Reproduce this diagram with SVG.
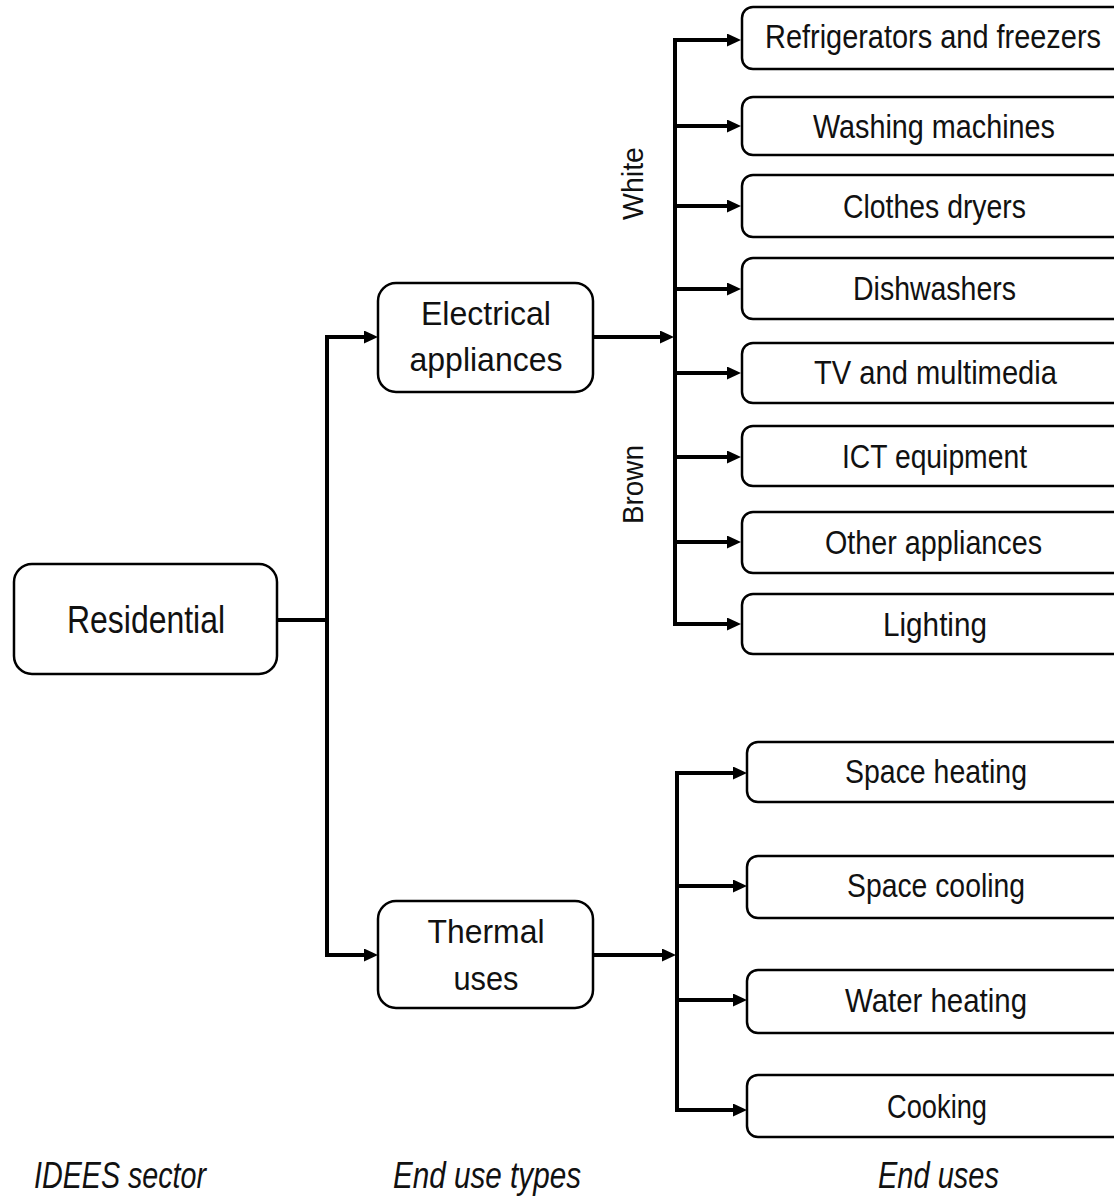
<svg xmlns="http://www.w3.org/2000/svg" width="1114" height="1197" viewBox="0 0 1114 1197">
<defs>
<marker id="ah" viewBox="0 0 14 13" refX="0" refY="6.5" markerWidth="14" markerHeight="13" markerUnits="userSpaceOnUse" orient="auto">
<path d="M0,0 L14,6.5 L0,13 z" fill="#000"/>
</marker>
<style>
.box{fill:#fff;stroke:#000;stroke-width:2.5}
.lbl{font-family:"Liberation Sans Narrow","Liberation Sans",Arial,sans-serif;font-size:33px;fill:#111;text-anchor:middle}
.big{font-size:39px}
.side{font-size:30px}
.cap{font-family:"Liberation Sans Narrow","Liberation Sans",Arial,sans-serif;font-size:36px;font-style:italic;fill:#111}
.ln{fill:none;stroke:#000;stroke-width:4}
.tr{fill:none;stroke:#000;stroke-width:4;stroke-linecap:square}
.ar{fill:none;stroke:#000;stroke-width:4;marker-end:url(#ah)}
</style>
</defs>
<rect width="1114" height="1197" fill="#fff"/>

<g id="connectors">
<path class="ln" d="M277,620 H327"/>
<path class="tr" d="M327,337 V955"/>
<path class="ar" d="M325,337 H364"/>
<path class="ar" d="M325,955 H364"/>
<path class="ar" d="M593,337 H660"/>
<path class="ar" d="M593,955 H662"/>
<path class="tr" d="M675,40 V624"/>
<path class="ar" d="M673,40 H727"/>
<path class="ar" d="M675,126 H727"/>
<path class="ar" d="M675,206 H727"/>
<path class="ar" d="M675,289 H727"/>
<path class="ar" d="M675,373 H727"/>
<path class="ar" d="M675,457 H727"/>
<path class="ar" d="M675,542 H727"/>
<path class="ar" d="M673,624 H727"/>
<path class="tr" d="M677,773 V1110"/>
<path class="ar" d="M675,773 H733"/>
<path class="ar" d="M677,886 H733"/>
<path class="ar" d="M677,1000 H733"/>
<path class="ar" d="M675,1110 H733"/>
</g>

<g id="residential">
<rect class="box" x="14" y="564" width="263" height="110" rx="18"/>
<text class="lbl big" x="146" y="633" textLength="158" lengthAdjust="spacingAndGlyphs">Residential</text>
</g>

<g id="electrical">
<rect class="box" x="378" y="283" width="215" height="109" rx="18"/>
<text class="lbl" x="486" y="325" textLength="130" lengthAdjust="spacingAndGlyphs">Electrical</text>
<text class="lbl" x="486" y="371" textLength="153" lengthAdjust="spacingAndGlyphs">appliances</text>
</g>

<g id="thermal">
<rect class="box" x="378" y="901" width="215" height="107" rx="18"/>
<text class="lbl" x="486" y="943" textLength="117" lengthAdjust="spacingAndGlyphs">Thermal</text>
<text class="lbl" x="486" y="990" textLength="65" lengthAdjust="spacingAndGlyphs">uses</text>
</g>

<g id="label-white">
<text class="lbl side" transform="translate(643,183.5) rotate(-90)" textLength="73" lengthAdjust="spacingAndGlyphs">White</text>
</g>
<g id="label-brown">
<text class="lbl side" transform="translate(643,484.5) rotate(-90)" textLength="79" lengthAdjust="spacingAndGlyphs">Brown</text>
</g>

<g id="refrigerators">
<rect class="box" x="742" y="7" width="420" height="62" rx="11"/>
<text class="lbl" x="933" y="48" textLength="336" lengthAdjust="spacingAndGlyphs">Refrigerators and freezers</text>
</g>
<g id="washing">
<rect class="box" x="742" y="97" width="420" height="58" rx="11"/>
<text class="lbl" x="934" y="138" textLength="242" lengthAdjust="spacingAndGlyphs">Washing machines</text>
</g>
<g id="dryers">
<rect class="box" x="742" y="175" width="420" height="62" rx="11"/>
<text class="lbl" x="934.5" y="218" textLength="183" lengthAdjust="spacingAndGlyphs">Clothes dryers</text>
</g>
<g id="dishwashers">
<rect class="box" x="742" y="258" width="420" height="61" rx="11"/>
<text class="lbl" x="934.5" y="300" textLength="163" lengthAdjust="spacingAndGlyphs">Dishwashers</text>
</g>
<g id="tv">
<rect class="box" x="742" y="343" width="420" height="60" rx="11"/>
<text class="lbl" x="935.5" y="384" textLength="243" lengthAdjust="spacingAndGlyphs">TV and multimedia</text>
</g>
<g id="ict">
<rect class="box" x="742" y="426" width="420" height="60" rx="11"/>
<text class="lbl" x="934.5" y="468" textLength="185" lengthAdjust="spacingAndGlyphs">ICT equipment</text>
</g>
<g id="other">
<rect class="box" x="742" y="512" width="420" height="61" rx="11"/>
<text class="lbl" x="933.5" y="554" textLength="217" lengthAdjust="spacingAndGlyphs">Other appliances</text>
</g>
<g id="lighting">
<rect class="box" x="742" y="594" width="420" height="60" rx="11"/>
<text class="lbl" x="935" y="636" textLength="104" lengthAdjust="spacingAndGlyphs">Lighting</text>
</g>

<g id="space-heating">
<rect class="box" x="747" y="742" width="420" height="60" rx="11"/>
<text class="lbl" x="936" y="783" textLength="182" lengthAdjust="spacingAndGlyphs">Space heating</text>
</g>
<g id="space-cooling">
<rect class="box" x="747" y="856" width="420" height="62" rx="11"/>
<text class="lbl" x="936" y="897" textLength="178" lengthAdjust="spacingAndGlyphs">Space cooling</text>
</g>
<g id="water-heating">
<rect class="box" x="747" y="970" width="420" height="63" rx="11"/>
<text class="lbl" x="936" y="1012" textLength="182" lengthAdjust="spacingAndGlyphs">Water heating</text>
</g>
<g id="cooking">
<rect class="box" x="747" y="1075" width="420" height="62" rx="11"/>
<text class="lbl" x="937" y="1118" textLength="100" lengthAdjust="spacingAndGlyphs">Cooking</text>
</g>

<g id="captions">
<text class="cap" x="34" y="1188" textLength="172" lengthAdjust="spacingAndGlyphs">IDEES sector</text>
<text class="cap" x="393" y="1188" textLength="188" lengthAdjust="spacingAndGlyphs">End use types</text>
<text class="cap" x="878" y="1188" textLength="121" lengthAdjust="spacingAndGlyphs">End uses</text>
</g>
</svg>
